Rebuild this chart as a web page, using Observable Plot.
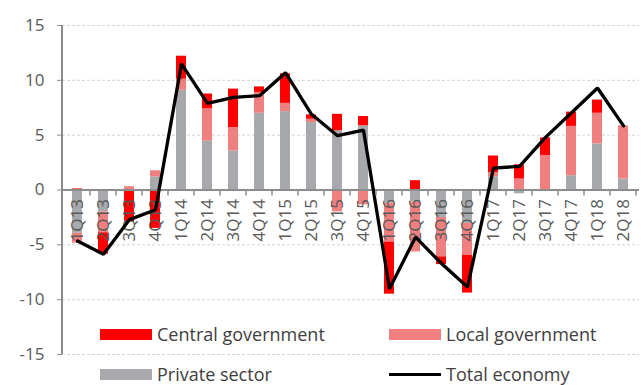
<!DOCTYPE html>
<html><head><meta charset="utf-8">
<script src="https://cdn.jsdelivr.net/npm/d3@7"></script>
<script src="https://cdn.jsdelivr.net/npm/@observablehq/plot@0.6"></script>
<style>
body{margin:0;background:#fff;font-family:"Open Sans",sans-serif;}
#wrap{position:relative;width:643px;height:385px;overflow:hidden}
.leg{position:absolute;display:flex;align-items:center;font-size:18px;color:#404040;white-space:nowrap;height:20px}
.sw{width:52px;height:11px;margin-right:5px;flex:none}
.ln{width:52px;height:3px;margin-right:5px;background:#000;flex:none}
g[aria-label="y-axis tick label"]{fill:#595959}
g[aria-label="y-axis tick"]{stroke:#8c8c8c}
</style></head><body><div id="wrap"></div>
<script>
const quarters = ["1Q13","2Q13","3Q13","4Q13","1Q14","2Q14","3Q14","4Q14","1Q15","2Q15","3Q15","4Q15","1Q16","2Q16","3Q16","4Q16","1Q17","2Q17","3Q17","4Q17","1Q18","2Q18"];
const privateSector = [-3.95,-2.0,0,1.2,9.1,4.45,3.55,7.0,7.15,6.15,5.4,5.85,-1.2,-1.1,-2.5,-3.05,1.2,-0.35,0,1.3,4.2,1.0];
const localGov = [-0.9,-1.9,0.3,0.55,1.0,2.95,2.15,1.9,0.75,0.3,-2.0,-1.35,-3.55,-4.55,-3.6,-2.9,0.4,1.0,3.15,4.5,2.8,4.85];
const centralGov = [0.1,-1.95,-2.9,-3.5,2.1,1.35,3.5,0.5,2.7,0.4,1.5,0.85,-4.75,0.85,-0.7,-3.45,1.5,1.3,1.6,1.3,1.2,0];
const totalEconomy = [-4.65,-5.85,-2.7,-1.8,11.5,7.9,8.45,8.6,10.7,6.9,4.95,5.45,-9.0,-4.3,-6.7,-8.85,2.0,2.15,4.8,7.05,9.3,5.85];
const yTicks = [-15,-10,-5,0,5,10,15];
const seriesNames = ["Private sector","Local government","Central government"];
const seriesColors = ["#a7a9ac","#f08080","#ff0000"];
const legendNames = ["Central government","Local government","Private sector","Total economy"];

const data = [];
quarters.forEach((q,i)=>{
  data.push({q, s: seriesNames[0], v: privateSector[i]});
  data.push({q, s: seriesNames[1], v: localGov[i]});
  data.push({q, s: seriesNames[2], v: centralGov[i]});
});
const totals = quarters.map((q,i)=>({q, v: totalEconomy[i]}));

const W=643,H=385,ML=62,MR=4,MT=25,MB=31;
const plot = Plot.plot({
  width:W, height:H, marginLeft:ML, marginRight:MR, marginTop:MT, marginBottom:MB,
  style:{fontFamily:'"Open Sans", sans-serif', background:"transparent", overflow:"visible"},
  x:{type:"band", domain:quarters, paddingInner:0.6, paddingOuter:0.3, axis:null},
  y:{domain:[-15,15], axis:null},
  color:{domain:seriesNames, range:seriesColors},
  marks:[
    Plot.ruleY(yTicks.filter(d=>d!==0), {stroke:"#d4d4d4", strokeDasharray:"3,2", strokeWidth:1}),
    Plot.barY(data, {x:"q", y:"v", fill:"s", order:seriesNames}),
    Plot.ruleY([0], {stroke:"#8c8c8c", strokeWidth:2}),
    Plot.text(quarters, {x:d=>d, y:()=>0, text:d=>d, rotate:-90, textAnchor:"end", lineAnchor:"middle", dy:9, fontSize:17, fill:"#595959"}),
    Plot.line(totals, {x:"q", y:"v", stroke:"#000", strokeWidth:3.3, strokeLinejoin:"miter"}),
    Plot.axisY(yTicks, {tickSize:5, tickPadding:13, fontSize:17, label:null, tickFormat:d=>String(d)})
  ]
});
document.getElementById("wrap").appendChild(plot);

// axis line and x tick marks from the plot's own scales
const xs = plot.scale("x"), ys = plot.scale("y");
const svg = d3.select(plot);
const step = xs.step;
const g = svg.append("g").attr("stroke","#8c8c8c");
g.append("line").attr("x1",ML).attr("x2",ML).attr("y1",ys.apply(15)).attr("y2",ys.apply(-15)).attr("stroke-width",2);
quarters.forEach(q=>{
  const c = xs.apply(q) + xs.bandwidth/2;
  const bx = c + step/2;
  g.append("line").attr("x1",bx).attr("x2",bx).attr("y1",ys.apply(0)).attr("y2",ys.apply(0)+6).attr("stroke-width",1.5);
});

// legend (HTML overlay)
const wrap = document.getElementById("wrap");
const legPos = [[100,324],[389,324],[100,364],[389,364]];
const legKinds = [["sw","#ff0000"],["sw","#f08080"],["sw","#a7a9ac"],["ln","#000"]];
legendNames.forEach((name,i)=>{
  const d = document.createElement("div");
  d.className="leg";
  d.style.left=legPos[i][0]+"px"; d.style.top=legPos[i][1]+"px";
  const s = document.createElement("div");
  s.className=legKinds[i][0]; s.style.background=legKinds[i][1];
  d.appendChild(s);
  const t = document.createElement("span"); t.textContent=name; d.appendChild(t);
  wrap.appendChild(d);
});
</script></body></html>
